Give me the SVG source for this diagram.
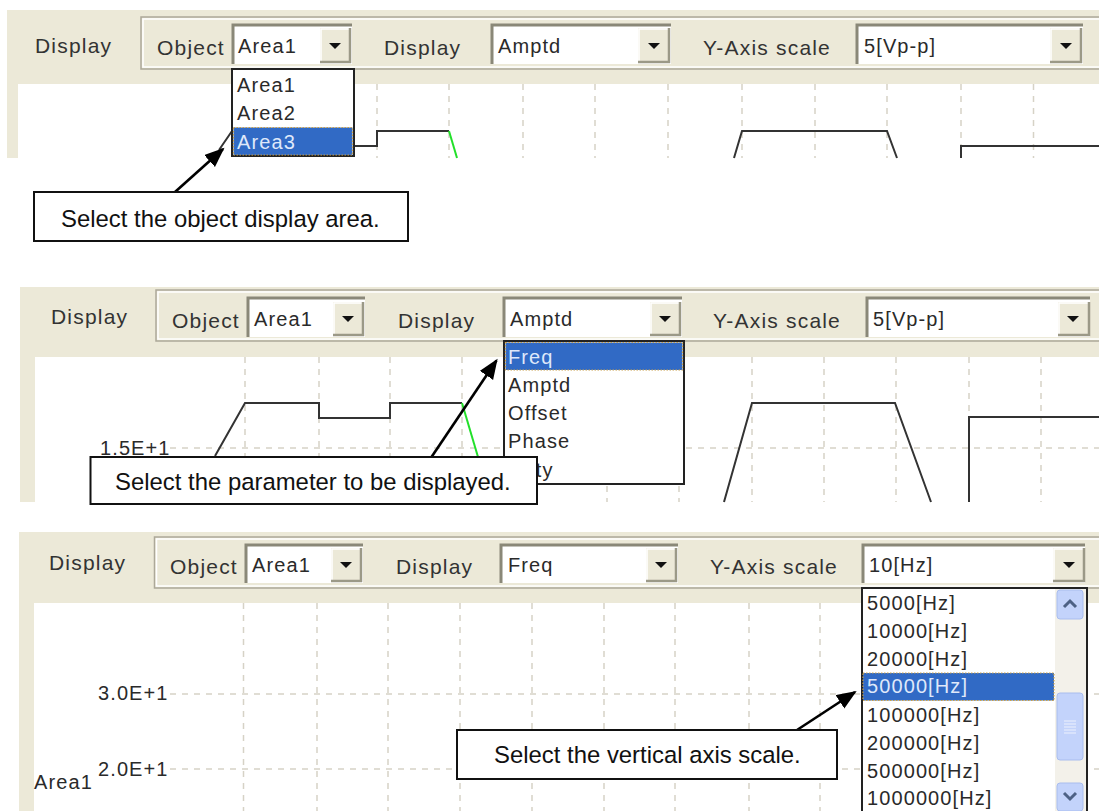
<svg xmlns="http://www.w3.org/2000/svg" width="1099" height="811" viewBox="0 0 1099 811">
<style>
.bg{fill:#ece9d8}
.plot{fill:#fff}
.bar{fill:#ece9d8;stroke:#aca899;stroke-width:1.5}
.barin{fill:none;stroke:#fff;stroke-width:1.5}
.field{fill:#fff;stroke:none}
.fb1{fill:none;stroke:#8a8878;stroke-width:3}
.btn{fill:#ece9d8;stroke:none}
.bl{fill:none;stroke:#fff;stroke-width:1.5}
.bd{fill:none;stroke:#9b9987;stroke-width:2.5}
.ar{fill:#111}
.ui{font-family:"Liberation Sans",Arial,sans-serif;font-size:21px;letter-spacing:1.2px;fill:#333}
.ui2{font-family:"Liberation Sans",Arial,sans-serif;font-size:20px;letter-spacing:1.1px;fill:#2a2a2a}
.hl{fill:#316ac5;stroke:#c9a04a;stroke-width:1.2;stroke-dasharray:1.5 1.5}
.drop{fill:#fff;stroke:#222;stroke-width:2}
.gridl{fill:none;stroke:#d6d2c6;stroke-width:1.5;stroke-dasharray:6 6}
.trace{fill:none;stroke:#333;stroke-width:2}
.green{fill:none;stroke:#22e02a;stroke-width:2}
.call{fill:#fff;stroke:#111;stroke-width:2}
.ctext{font-family:"Liberation Sans",Arial,sans-serif;font-size:23.9px;fill:#111}
.conn{fill:none;stroke:#000;stroke-width:2.6;marker-end:url(#head)}
.sbb{fill:#c3d3fb;stroke:#a9bdee;stroke-width:1}
.sbt{fill:#f3f1ea}
.chev{fill:none;stroke:#4d6185;stroke-width:3}
.grip{fill:none;stroke:#eef2fe;stroke-width:1.2}
</style>
<defs>
<marker id="head" markerUnits="userSpaceOnUse" markerWidth="22" markerHeight="18" refX="18" refY="8" orient="auto"><path d="M0 0L20 8L0 16Z" fill="#000"/></marker>
<path id="tri" class="ar" d="M-6-3H6L0 3Z"/>
</defs>

<g id="panel-1">
<rect class="bg" x="7" y="10" width="1092" height="148"/>
<rect class="plot" x="18" y="84" width="1081" height="74"/>
<path class="gridl" d="M377 84V158M449 84V158M523 84V158M595 84V158M668 84V158M742 84V158M815 84V158M887 84V158M961 84V158M1033.500 84V158M305 150V158"/>
<path class="trace" d="M354 146H377V131H449"/>
<path class="green" d="M449 131L457 158"/>
<path class="trace" d="M232 131L219 150M734 158L742 131H887L897 158M961 158V146H1099"/>
<rect class="bar" x="141" y="17" width="960" height="52"/>
<rect class="barin" x="143" y="19" width="960" height="48"/>
<text class="ui" x="35" y="53">Display</text>
<text class="ui" x="157" y="55">Object</text>
<g id="p1-object"><rect class="field" x="232" y="25" width="120" height="39"/><path class="fb1" d="M233 64V25H352"/><rect class="btn" x="320" y="28" width="30" height="35"/><path class="bl" d="M321 63V29H349"/><path class="bd" d="M320 62H350V28"/><use href="#tri" x="335" y="46"/><text class="ui2" x="238" y="53">Area1</text></g>
<text class="ui" x="384" y="55">Display</text>
<g id="p1-display"><rect class="field" x="491" y="25" width="180" height="39"/><path class="fb1" d="M492 64V25H671"/><rect class="btn" x="638" y="28" width="31" height="35"/><path class="bl" d="M639 63V29H668"/><path class="bd" d="M638 62H669V28"/><use href="#tri" x="654" y="46"/><text class="ui2" x="498" y="53">Amptd</text></g>
<text class="ui" x="703" y="55">Y-Axis scale</text>
<g id="p1-scale"><rect class="field" x="856" y="25" width="227" height="39"/><path class="fb1" d="M857 64V25H1083"/><rect class="btn" x="1050" y="28" width="31" height="35"/><path class="bl" d="M1051 63V29H1080"/><path class="bd" d="M1050 62H1081V28"/><use href="#tri" x="1066" y="46"/><text class="ui2" x="864" y="53">5[Vp-p]</text></g>
<g id="p1-dropdown"><rect class="drop" x="232" y="69" width="122" height="87"/><rect class="hl" x="233.500" y="127.500" width="119" height="27.500"/><text class="ui2" x="237" y="92">Area1</text><text class="ui2" x="237" y="120">Area2</text><text class="ui2" style="fill:#dfe8fa" x="237" y="149">Area3</text></g>
</g>

<g id="panel-2">
<rect class="bg" x="20" y="287" width="1079" height="215"/>
<rect class="plot" x="35" y="357" width="1064" height="145"/>
<path class="gridl" d="M170 448H1099M245 357V502M319 357V502M390 357V502M462 357V502M752 357V502M824 357V502M896 357V502M969 357V502M1041 357V502M607 486V502M679 486V502"/>
<path class="trace" d="M215 456L245 403H319V418H390V403H462"/>
<path class="green" d="M462 403L478 457"/>
<path class="trace" d="M724 502L752 403H895L931 502M969 502V417H1099"/>
<text class="ui2" x="100" y="455">1.5E+1</text>
<rect class="bar" x="156" y="290" width="945" height="51"/>
<rect class="barin" x="158" y="292" width="945" height="47"/>
<text class="ui" x="51" y="324">Display</text>
<text class="ui" x="172" y="328">Object</text>
<g id="p2-object"><rect class="field" x="247" y="298" width="118" height="39"/><path class="fb1" d="M248 337V298H365"/><rect class="btn" x="333" y="302" width="30" height="34"/><path class="bl" d="M334 335V303H362"/><path class="bd" d="M333 335H363V302"/><use href="#tri" x="348" y="319"/><text class="ui2" x="254" y="326">Area1</text></g>
<text class="ui" x="398" y="328">Display</text>
<g id="p2-display"><rect class="field" x="503" y="298" width="179" height="39"/><path class="fb1" d="M504 337V298H682"/><rect class="btn" x="650" y="302" width="30" height="34"/><path class="bl" d="M651 335V303H679"/><path class="bd" d="M650 335H680V302"/><use href="#tri" x="665" y="319"/><text class="ui2" x="510" y="326">Amptd</text></g>
<text class="ui" x="713" y="328">Y-Axis scale</text>
<g id="p2-scale"><rect class="field" x="866" y="298" width="224" height="39"/><path class="fb1" d="M867 337V298H1090"/><rect class="btn" x="1058" y="302" width="31" height="34"/><path class="bl" d="M1059 335V303H1088"/><path class="bd" d="M1058 335H1089V302"/><use href="#tri" x="1073" y="319"/><text class="ui2" x="873" y="326">5[Vp-p]</text></g>
<g id="p2-dropdown"><rect class="drop" x="504" y="341" width="180" height="143"/><rect class="hl" x="505.500" y="342.500" width="177" height="27.500"/><text class="ui2" style="fill:#dfe8fa" x="508" y="364">Freq</text><text class="ui2" x="508" y="392">Amptd</text><text class="ui2" x="508" y="420">Offset</text><text class="ui2" x="508" y="448">Phase</text><text class="ui2" x="508" y="477">Duty</text></g>
</g>

<g id="panel-3">
<rect class="bg" x="19" y="532" width="1080" height="279"/>
<rect class="plot" x="34" y="603" width="1065" height="208"/>
<path class="gridl" d="M170 694H1099M170 769H1099M243.500 603V811M317 603V811M388 603V811M460 603V811M532 603V811M604 603V811M675 603V811M749 603V811M820 603V811"/>
<text class="ui2" x="98" y="700">3.0E+1</text>
<text class="ui2" x="98" y="776">2.0E+1</text>
<text class="ui2" x="34" y="789">Area1</text>
<rect class="bar" x="154.500" y="537" width="947" height="51"/>
<rect class="barin" x="156.500" y="539" width="947" height="47"/>
<text class="ui" x="49" y="570">Display</text>
<text class="ui" x="170" y="574">Object</text>
<g id="p3-object"><rect class="field" x="245" y="545" width="118" height="38"/><path class="fb1" d="M246 583V545H363"/><rect class="btn" x="331" y="548" width="30" height="34"/><path class="bl" d="M332 581V549H360"/><path class="bd" d="M331 581H361V548"/><use href="#tri" x="346" y="565"/><text class="ui2" x="252" y="572">Area1</text></g>
<text class="ui" x="396" y="574">Display</text>
<g id="p3-display"><rect class="field" x="500" y="545" width="178" height="38"/><path class="fb1" d="M501 583V545H678"/><rect class="btn" x="646" y="548" width="30" height="34"/><path class="bl" d="M647 581V549H675"/><path class="bd" d="M646 581H676V548"/><use href="#tri" x="661" y="565"/><text class="ui2" x="508" y="572">Freq</text></g>
<text class="ui" x="710" y="574">Y-Axis scale</text>
<g id="p3-scale"><rect class="field" x="862" y="545" width="223" height="38"/><path class="fb1" d="M863 583V545H1085"/><rect class="btn" x="1053" y="548" width="31" height="34"/><path class="bl" d="M1054 581V549H1083"/><path class="bd" d="M1053 581H1084V548"/><use href="#tri" x="1069" y="565"/><text class="ui2" x="869" y="572">10[Hz]</text></g>
<g id="p3-dropdown">
<rect class="drop" x="862" y="588" width="225" height="226"/>
<rect class="sbt" x="1055" y="589" width="31" height="222"/>
<rect class="sbb" x="1057" y="590" width="26" height="29" rx="3"/><path class="chev" d="M1064 607L1070 601L1076 607"/>
<rect class="sbb" x="1057" y="693" width="26" height="67" rx="3"/><path class="grip" d="M1064 721H1076M1064 724H1076M1064 727H1076M1064 730H1076M1064 733H1076"/>
<rect class="sbb" x="1057" y="783" width="26" height="28" rx="3"/><path class="chev" d="M1064 793L1070 799L1076 793"/>
<rect class="hl" x="863" y="673" width="191" height="27.500"/>
<text class="ui2" x="867" y="610">5000[Hz]</text>
<text class="ui2" x="867" y="638">10000[Hz]</text>
<text class="ui2" x="867" y="666">20000[Hz]</text>
<text class="ui2" style="fill:#dfe8fa" x="867" y="693">50000[Hz]</text>
<text class="ui2" x="867" y="722">100000[Hz]</text>
<text class="ui2" x="867" y="750">200000[Hz]</text>
<text class="ui2" x="867" y="778">500000[Hz]</text>
<text class="ui2" x="867" y="805">1000000[Hz]</text>
</g>
</g>

<g id="connectors">
<line class="conn" x1="175" y1="192" x2="223" y2="149"/>
<line class="conn" x1="431.500" y1="457" x2="496.500" y2="360.500"/>
<line class="conn" x1="797" y1="730" x2="855" y2="692"/>
</g>

<g id="callout-1"><rect class="call" x="34" y="192" width="374" height="49"/><text class="ctext" x="61" y="227">Select the object display area.</text></g>
<g id="callout-2"><rect class="call" x="90.500" y="457" width="446.500" height="47"/><text class="ctext" x="115" y="490">Select the parameter to be displayed.</text></g>
<g id="callout-3"><rect class="call" x="457" y="730" width="380" height="49"/><text class="ctext" x="494" y="763">Select the vertical axis scale.</text></g>
</svg>
